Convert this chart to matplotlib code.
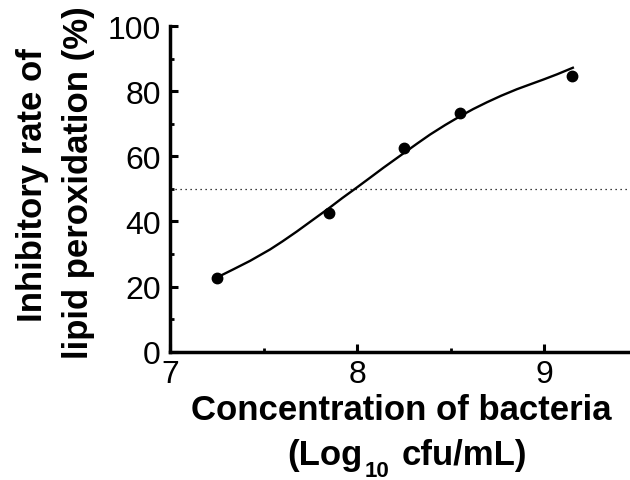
import numpy as np
import matplotlib
matplotlib.use("Agg")
import matplotlib.pyplot as plt
from matplotlib.ticker import MultipleLocator

plt.rcParams['font.family'] = ['Liberation Sans', 'DejaVu Sans']

# measured points
conc = [7.25, 7.85, 8.25, 8.55, 9.15]
inhib = [22.6, 42.6, 62.6, 73.2, 84.8]

# fitted curve
fit_x = [7.256, 7.34, 7.426, 7.533, 7.60, 7.676, 7.76, 7.849, 7.92, 7.997, 8.07, 8.14,
         8.247, 8.32, 8.39, 8.47, 8.547, 8.62, 8.694, 8.77, 8.854, 8.93, 8.997, 9.07, 9.154]
fit_y = [23.0, 25.4, 27.9, 31.4, 33.9, 36.9, 40.4, 44.1, 47.2, 50.4, 53.5, 56.5,
         60.9, 63.9, 66.7, 69.6, 72.2, 74.5, 76.6, 78.6, 80.6, 82.2, 83.6, 85.2, 87.2]

half = 50

W, H = 630, 481
fig = plt.figure(figsize=(6.3, 4.81), dpi=100)
ax = fig.add_axes([0.2706, 0.2667, 0.7294, 0.677])

ax.plot(fit_x, fit_y, color='black', lw=1.7, zorder=2)
ax.plot(conc, inhib, 'o', color='black', ms=7.5, zorder=3)
ax.axhline(half, color='black', lw=0.9, ls=(0, (1, 3)), zorder=1)

ax.set_xlim(7, 9.46)
ax.set_ylim(0, 100)
ax.xaxis.set_major_locator(MultipleLocator(1))
ax.xaxis.set_minor_locator(MultipleLocator(0.5))
ax.yaxis.set_major_locator(MultipleLocator(20))
ax.yaxis.set_minor_locator(MultipleLocator(10))

for s in ['top', 'right']:
    ax.spines[s].set_visible(False)
for s in ['left', 'bottom']:
    ax.spines[s].set_linewidth(2.5)

ax.tick_params(which='major', direction='in', length=6, width=2.2, labelsize=23)
ax.tick_params(axis='x', which='major', pad=5)
ax.tick_params(axis='y', which='major', pad=7)
ax.tick_params(which='minor', direction='in', length=3, width=2.0)

# axis titles
ylab1 = 'Inhibitory rate of'
ylab2 = 'lipid peroxidation (%)'
xlab1 = 'Concentration of bacteria'
xlab2a, xlab2sub, xlab2b = '(Log', '10', 'cfu/mL)'

kw = dict(fontsize=25, fontweight='bold')
fig.text(42 / W, 1 - 185 / H, ylab1, rotation=90, rotation_mode='anchor',
         ha='center', va='baseline', **kw)
fig.text(88 / W, 1 - 183 / H, ylab2, rotation=90, rotation_mode='anchor',
         ha='center', va='baseline', **kw)
fig.text(401 / W, 1 - 420 / H, xlab1, ha='center', va='baseline', **kw)
fig.text(287 / W, 1 - 465 / H, xlab2a, ha='left', va='baseline', **kw)
fig.text(365 / W, 1 - 477 / H, xlab2sub, ha='left', va='baseline',
         fontsize=16, fontweight='bold')
fig.text(527 / W, 1 - 465 / H, xlab2b, ha='right', va='baseline', **kw)

fig.savefig('out.png', dpi=100)
